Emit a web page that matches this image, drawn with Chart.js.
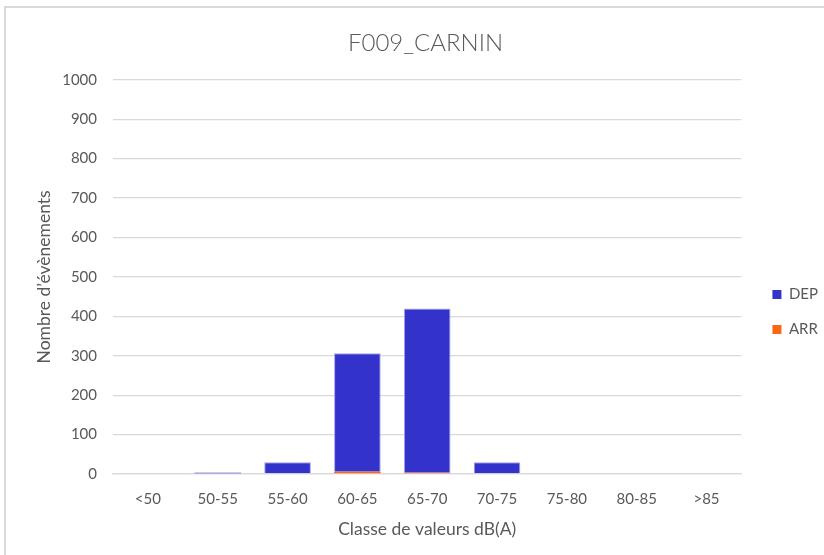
<!DOCTYPE html>
<html>
<head>
<meta charset="utf-8">
<script src="https://cdn.jsdelivr.net/npm/chart.js@4"></script>
<style>
html,body{margin:0;padding:0;background:#fff;}
#wrap{position:relative;width:824px;height:555px;}
</style>
</head>
<body>
<div id="wrap"><canvas id="c" width="824" height="555"></canvas></div>
<script>
const categories = ['<50','50-55','55-60','60-65','65-70','70-75','75-80','80-85','>85'];
const depValues = [0, 3, 28, 300, 417, 30, 0, 0, 0];
const arrValues = [0, 0, 2, 6, 3, 0, 0, 0, 0];
const yTicks = [0,100,200,300,400,500,600,700,800,900,1000];

const FONT = 'Lato, "Open Sans", sans-serif';
const frame = {
  id:'frame',
  beforeDraw(chart){
    const ctx = chart.ctx;
    ctx.save();
    ctx.strokeStyle = '#d9d9d9';
    ctx.lineWidth = 2;
    ctx.beginPath();
    ctx.moveTo(5, 560);
    ctx.lineTo(5, 7);
    ctx.lineTo(830, 7);
    ctx.stroke();
    ctx.restore();
  }
};
const legendShift = {
  id:'legendShift',
  afterLayout(chart){
    const l = chart.legend;
    if (!l) return;
    l.top += 30; l.bottom += 30;
    l.left += 11; l.right += 11;
  }
};

new Chart(document.getElementById('c'), {
  type: 'bar',
  data: {
    labels: categories,
    datasets: [
      { label: 'ARR', data: arrValues, backgroundColor: '#FF6611', borderWidth: 0, stack: 's' },
      { label: 'DEP', data: depValues, backgroundColor: '#3333CC', borderColor: '#A3A3E8',
        borderWidth: c => (c.raw !== undefined && c.raw < 10) ? 0 : 1, borderSkipped: 'bottom', stack: 's' }
    ]
  },
  plugins: [frame, legendShift],
  options: {
    responsive: false,
    animation: false,
    layout: { padding: { left: 34, right: 7, top: 20, bottom: 11 } },
    datasets: { bar: { categoryPercentage: 0.668, barPercentage: 1.0 } },
    plugins: {
      title: { display: true, text: 'F009_CARNIN', color: '#595959', font: { family: FONT, size: 24, weight: 300 }, padding: { top: 9, bottom: 22 } },
      legend: {
        position: 'right', reverse: true,
        labels: { boxWidth: 9, boxHeight: 9, color: '#595959', font: { family: FONT, size: 15 }, padding: 20 }
      },
      tooltip: { enabled: false }
    },
    scales: {
      x: {
        stacked: true,
        grid: { display: false },
        border: { color: '#d9d9d9', width: 1.3 },
        ticks: { color: '#595959', font: { family: FONT, size: 15 }, padding: 8, maxRotation: 0 },
        title: { display: true, text: 'Classe de valeurs dB(A)', color: '#595959', font: { family: FONT, size: 17.5 }, padding: { top: 3 } }
      },
      y: {
        stacked: true,
        min: 0, max: 1000,
        afterBuildTicks(axis){ axis.ticks = yTicks.map(v => ({ value: v })); },
        afterFit(axis){ axis.width = 79; },
        grid: { color: '#d9d9d9', lineWidth: 1.3, drawTicks: false },
        border: { display: false },
        ticks: { color: '#595959', font: { family: FONT, size: 15 }, padding: 16, callback: v => String(v) },
        title: { display: true, text: 'Nombre d\u2019évènements', color: '#595959', font: { family: FONT, size: 17.5 }, padding: { top: 0, bottom: 10 } }
      }
    }
  }
});
</script>
</body>
</html>
